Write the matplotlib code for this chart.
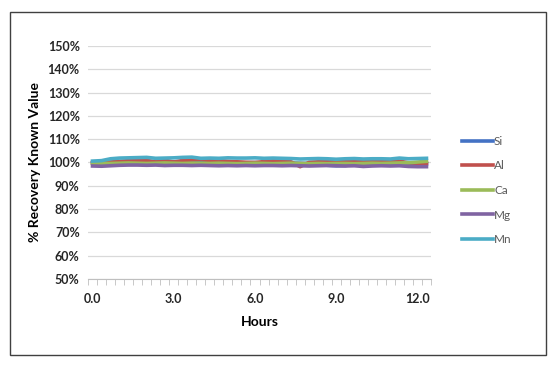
import matplotlib.pyplot as plt
from matplotlib.patches import Rectangle
from matplotlib.ticker import FixedLocator, FuncFormatter

# hours, every 20 minutes (38 readings)
hours = [i / 3 for i in range(38)]

si = [100.0, 100.1, 100.0, 100.2, 100.1, 100.3, 100.2, 100.1, 100.2, 100.3,
      100.2, 100.1, 100.3, 100.2, 100.0, 100.1, 100.0, 99.9, 100.0, 99.8,
      99.9, 100.0, 99.8, 99.7, 99.6, 99.3, 98.8, 98.6, 98.7, 99.2,
      99.6, 99.8, 99.5, 99.7, 99.8, 99.7, 99.6, 99.5]
al = [99.8, 100.0, 100.2, 100.5, 100.8, 101.0, 100.9, 100.3, 101.0, 100.2,
      100.9, 101.1, 101.3, 100.9, 100.8, 100.5, 100.3, 100.1, 100.0, 100.4,
      100.7, 100.6, 100.3, 98.2, 100.1, 100.3, 100.5, 100.6, 100.8, 100.4,
      100.6, 100.5, 100.7, 100.8, 100.6, 99.9, 99.7, 99.6]
ca = [99.6, 99.7, 99.6, 99.7, 99.8, 99.7, 99.6, 99.7, 99.8, 99.7,
      99.6, 99.7, 99.7, 99.6, 99.7, 99.6, 99.5, 99.6, 99.7, 99.6,
      99.5, 99.6, 99.7, 99.6, 99.5, 99.6, 99.5, 99.6, 99.6, 99.5,
      99.6, 99.7, 99.6, 99.7, 99.8, 99.9, 100.2, 100.5]
mg = [98.5, 98.4, 98.6, 98.8, 98.9, 98.9, 98.8, 98.9, 98.7, 98.8,
      98.8, 98.7, 98.8, 98.7, 98.6, 98.7, 98.6, 98.7, 98.6, 98.7,
      98.7, 98.6, 98.7, 98.6, 98.5, 98.6, 98.7, 98.6, 98.5, 98.6,
      98.3, 98.5, 98.6, 98.5, 98.6, 98.3, 98.2, 98.2]
mn = [100.6, 100.8, 101.6, 101.9, 102.0, 102.1, 102.2, 101.8, 101.9, 102.0,
      102.2, 102.3, 101.8, 101.9, 101.8, 102.0, 101.9, 101.9, 102.0, 101.8,
      101.9, 101.8, 101.7, 101.5, 101.6, 101.7, 101.6, 101.4, 101.6, 101.7,
      101.5, 101.6, 101.6, 101.5, 101.9, 101.6, 101.7, 101.8]

names = ["Si", "Al", "Ca", "Mg", "Mn"]
series = [si, al, ca, mg, mn]
colors = ["#4472C4", "#C0504D", "#9BBB59", "#8064A2", "#4BACC6"]

plt.rcParams['font.family'] = ['Lato', 'DejaVu Sans']

fig = plt.figure(figsize=(5.54, 3.66), dpi=100)
fig.patches.append(Rectangle((10 / 554, 1 - 355 / 366), 536 / 554, 343 / 366,
                             transform=fig.transFigure, fill=False,
                             edgecolor="#404040", linewidth=1.0))
ax = fig.add_axes([88 / 554, 1 - 279 / 366, 343 / 554, 233 / 366])

for name, vals, c in zip(names, series, colors):
    ax.plot(hours, vals, color=c, linewidth=2.6, label=name)

step = 1 / 3
ax.set_xlim(-step / 2, hours[-1] + step / 2)
ax.set_ylim(50, 150)
ax.set_yticks(range(50, 151, 10))
ax.yaxis.set_major_formatter(FuncFormatter(lambda v, p: f"{v:.0f}%"))
ax.set_xticks([0, 3, 6, 9, 12])
ax.set_xticklabels(["0.0", "3.0", "6.0", "9.0", "12.0"])
ax.xaxis.set_minor_locator(FixedLocator([-step / 2 + k * step for k in range(39)]))
ax.tick_params(axis='x', which='major', length=0, pad=10)
ax.tick_params(axis='x', which='minor', length=4, color="#BFBFBF")
ax.tick_params(axis='y', length=0, pad=6)
for lab in ax.get_xticklabels() + ax.get_yticklabels():
    lab.set_fontsize(9)
    lab.set_fontweight('bold')
    lab.set_color("#262626")

ax.grid(axis='y', color="#D9D9D9", linewidth=0.9)
ax.set_axisbelow(True)
for s in ["top", "right", "left"]:
    ax.spines[s].set_visible(False)
ax.spines["bottom"].set_color("#BFBFBF")

ax.set_xlabel("Hours", fontsize=10, fontweight='bold', labelpad=8)
ax.set_ylabel("% Recovery Known Value", fontsize=10, fontweight='bold', labelpad=5)

leg = ax.legend(loc='center left', bbox_to_anchor=(1.06, 0.38), frameon=False,
                fontsize=8.5, handlelength=2.6, handletextpad=0.1, labelspacing=1.15,
                labelcolor="#595959")

fig.savefig("out.png", dpi=100)
